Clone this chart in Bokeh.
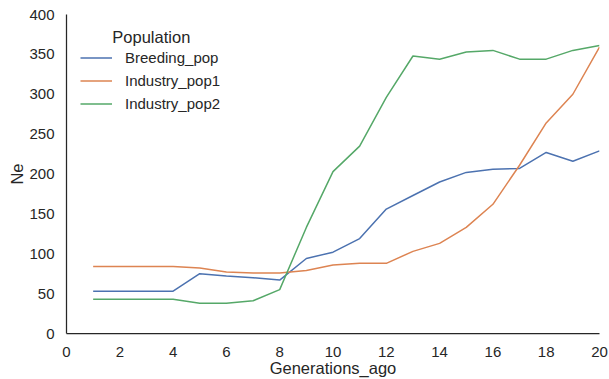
from bokeh.plotting import figure
from bokeh.models import Legend, LegendItem, Range1d, FixedTicker, Label
from bokeh.embed import file_html
from bokeh.resources import INLINE

generations = list(range(1, 21))
breeding_pop = [53, 53, 53, 53, 75, 72, 70, 67, 94, 102, 119, 156, 173, 190, 202, 206, 207, 227, 216, 229]
industry_pop1 = [84, 84, 84, 84, 82, 77, 76, 76, 79, 86, 88, 88, 103, 113, 133, 162, 211, 264, 300, 359]
industry_pop2 = [43, 43, 43, 43, 38, 38, 41, 55, 133, 203, 235, 296, 348, 344, 353, 355, 344, 344, 355, 361]
series_names = ["Breeding_pop", "Industry_pop1", "Industry_pop2"]
colors = ["#4C72B0", "#DD8452", "#55A868"]
x_ticks = list(range(0, 21, 2))
y_ticks = list(range(0, 401, 50))

FONT = "Liberation Sans"
TXT = "#262626"

p = figure(frame_width=533, frame_height=319, output_backend="svg", toolbar_location=None,
           x_range=Range1d(0, 20), y_range=Range1d(0, 400),
           min_border_left=66, min_border_right=9, min_border_top=14, min_border_bottom=30)
p.outline_line_color = None
p.grid.grid_line_color = None
p.background_fill_color = "white"
p.border_fill_color = "white"

renderers = []
for name, ys, c in zip(series_names, [breeding_pop, industry_pop1, industry_pop2], colors):
    r = p.line(generations, ys, line_color=c, line_width=1.5)
    renderers.append((name, r))

for ax in (p.xaxis[0], p.yaxis[0]):
    ax.axis_line_color = TXT
    ax.axis_line_width = 1.25
    ax.major_tick_line_color = None
    ax.minor_tick_line_color = None
    ax.major_label_text_font = FONT
    ax.major_label_text_font_size = "15px"
    ax.major_label_text_color = TXT
    ax.axis_label_text_font = FONT
    ax.axis_label_text_font_size = "16.5px"
    ax.axis_label_text_font_style = "normal"
    ax.axis_label_text_color = TXT

p.xaxis.ticker = FixedTicker(ticks=x_ticks)
p.yaxis.ticker = FixedTicker(ticks=y_ticks)
p.xaxis.axis_label = "Generations_ago"
p.yaxis.axis_label = "Ne"
p.xaxis.major_label_standoff = 7
p.yaxis.major_label_standoff = 6
p.xaxis.axis_label_standoff = -1
p.yaxis.axis_label_standoff = 0

legend = Legend(items=[LegendItem(label=n, renderers=[r]) for n, r in renderers],
                location=(14, 218), margin=0, padding=0, spacing=0,
                border_line_color=None, background_fill_alpha=0,
                glyph_width=32, glyph_height=23, label_height=23, label_standoff=13,
                label_text_font=FONT, label_text_font_size="15px", label_text_color=TXT)
p.add_layout(legend)

p.add_layout(Label(x=1.72, y=372, text="Population", text_font=FONT, text_font_size="16.5px",
                   text_color=TXT, text_baseline="middle", text_align="left"))

open("out.html", "w").write(file_html(p, INLINE))
